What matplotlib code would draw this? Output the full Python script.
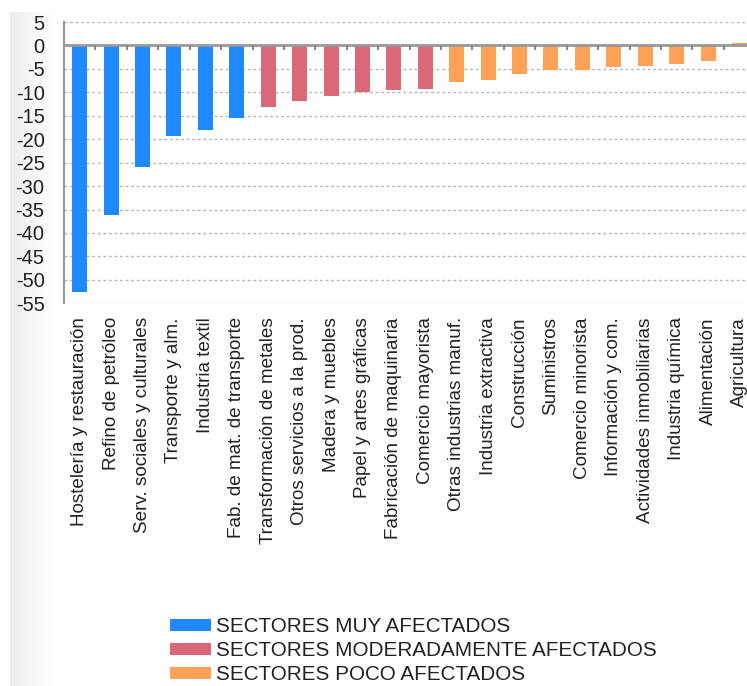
import numpy as np
import matplotlib
matplotlib.use("Agg")
import matplotlib.pyplot as plt
from matplotlib.patches import Patch

plt.rcParams['font.family'] = ['Liberation Sans', 'DejaVu Sans']

categories = [
    "Hostelería y restauración", "Refino de petróleo", "Serv. sociales y culturales",
    "Transporte y alm.", "Industria textil", "Fab. de mat. de transporte",
    "Transformación de metales", "Otros servicios a la prod.", "Madera y muebles",
    "Papel y artes gráficas", "Fabricación de maquinaria", "Comercio mayorista",
    "Otras industrias manuf.", "Industria extractiva", "Construcción", "Suministros",
    "Comercio minorista", "Información y com.", "Actividades inmobiliarias",
    "Industria química", "Alimentación", "Agricultura",
]
values = [-52.5, -36.2, -26.0, -19.3, -18.0, -15.4,
          -13.1, -11.9, -10.7, -10.0, -9.5, -9.3,
          -7.9, -7.3, -6.0, -5.3, -5.3, -4.6, -4.4, -3.9, -3.4, 0.6]
groups = [0]*6 + [1]*6 + [2]*10
group_labels = ["SECTORES MUY AFECTADOS", "SECTORES MODERADAMENTE AFECTADOS",
                "SECTORES POCO AFECTADOS"]
group_colors = ["#1F8AFF", "#D96879", "#FFA157"]
yticks = list(range(5, -56, -5))

W, H = 747, 686
fig = plt.figure(figsize=(W/100, H/100), dpi=100)

# soft gray strip on the left
bg = fig.add_axes([10/W, 0, 45/W, 1 - 12/H], zorder=-5)
grad = np.linspace(0.93, 1.0, 100)[None, :]
bg.imshow(np.repeat(grad[..., None], 3, axis=2), aspect='auto', extent=[0, 1, 0, 1])
bg.axis('off')

ax = fig.add_axes([64/W, 1 - 303.3/H, 1 - 64/W, (303.3 - 22)/H])
x = np.arange(len(categories))
colors = [group_colors[g] for g in groups]
ax.bar(x, values, width=0.48, color=colors, zorder=3)

ax.set_ylim(-55, 5)
ax.set_xlim(-0.5, 21.24)
ax.set_yticks(yticks)
ax.set_yticklabels([str(v) for v in yticks])
ax.yaxis.grid(True, linestyle=(0, (2, 2)), color='#b5b5b5', linewidth=1.0, zorder=0)
ax.axhline(0, color='#999999', linewidth=2, zorder=4)
# small tick marks at category boundaries under the zero line
b = np.arange(len(categories) - 1) + 0.5
ax.vlines(b, -1.0, 0, color='#888888', linewidth=1.5, zorder=4)

ax.set_xticks(x)
ax.set_xticklabels(categories, rotation=90, fontsize=13.6, color='#222222')
ax.tick_params(axis='x', length=0, pad=10)
ax.tick_params(axis='y', length=0, pad=14, labelsize=14.5, labelcolor='#222222')

for s in ['top', 'right', 'bottom']:
    ax.spines[s].set_visible(False)
ax.spines['left'].set_color('#999999')
ax.spines['left'].set_linewidth(1.5)

handles = [Patch(facecolor=c, edgecolor='none') for c in group_colors]
fig.legend(handles, group_labels, loc='upper left',
           bbox_to_anchor=(170/W, 1 - 617/H), frameon=False,
           fontsize=14.9, handlelength=2.0, handleheight=0.5,
           handletextpad=0.2, labelspacing=0.25, borderpad=0,
           borderaxespad=0, labelcolor='#222222')

fig.savefig("out.png", dpi=100)
